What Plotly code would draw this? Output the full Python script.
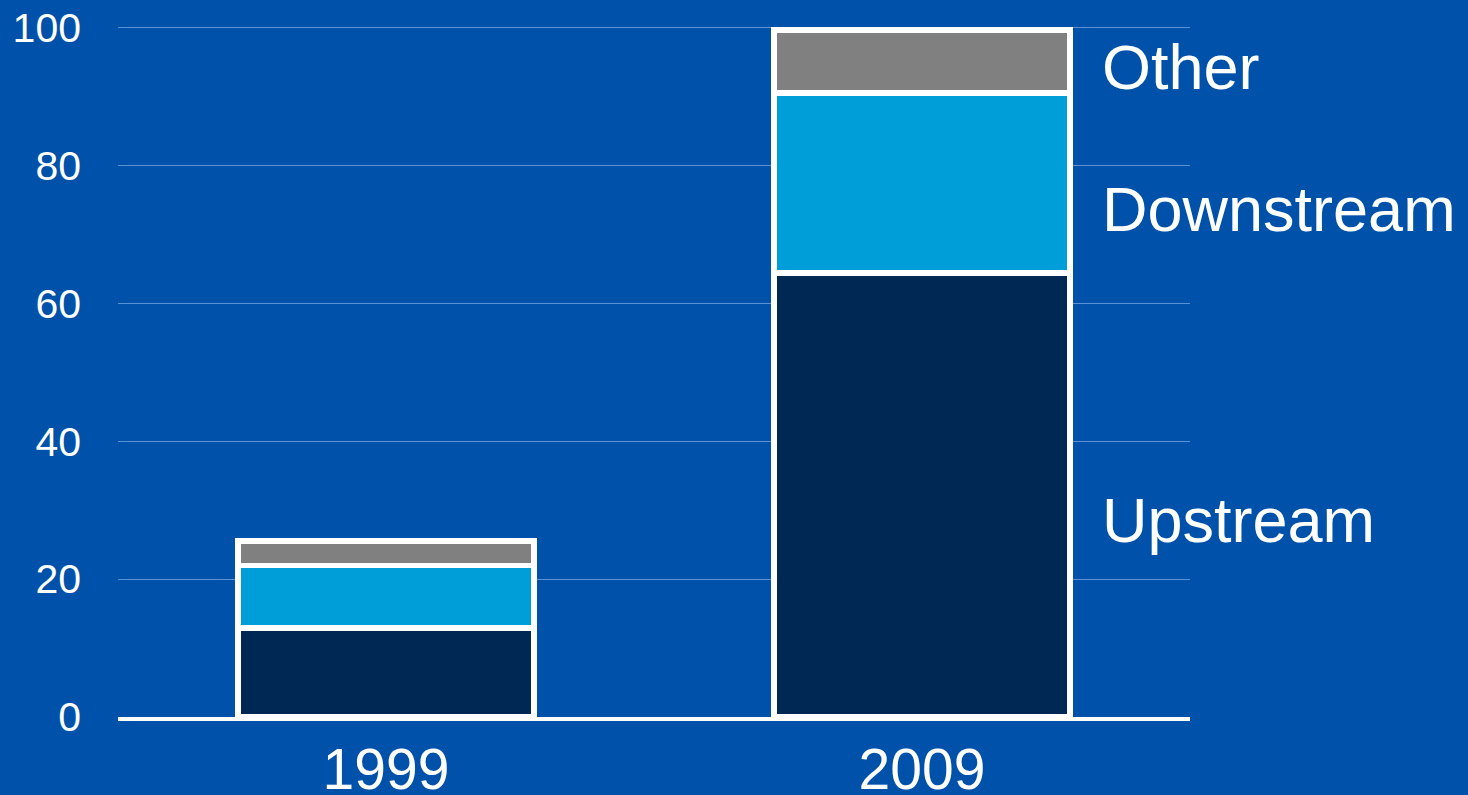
import plotly.graph_objects as go

years = ["1999", "2009"]
upstream = [12.9, 64.4]
downstream = [9.1, 26.1]
other = [3.5, 9.1]
series_names = ["Upstream", "Downstream", "Other"]
y_ticks = [0, 20, 40, 60, 80, 100]

colors = {"Upstream": "#002855", "Downstream": "#009ED8", "Other": "#808080"}
bg = "#0051A9"
FONT = "Liberation Sans, Arial, sans-serif"

fig = go.Figure()
for name, vals in zip(series_names, [upstream, downstream, other]):
    fig.add_trace(go.Bar(
        x=years, y=vals, name=name,
        marker=dict(color=colors[name], line=dict(color="white", width=5.5)),
        showlegend=False,
    ))

# right-side series labels, next to the 2009 bar
label_y = {"Other": 94.2, "Downstream": 73.6, "Upstream": 28.6}
for name in series_names:
    fig.add_annotation(
        x=1.333, y=label_y[name], xref="x", yref="y",
        text=name, showarrow=False, xanchor="left", yanchor="middle",
        font=dict(family=FONT, size=63, color="white"),
    )

fig.update_layout(
    barmode="stack",
    bargap=0.448,
    width=1468, height=795,
    margin=dict(l=118, r=278, t=24, b=78, autoexpand=False),
    paper_bgcolor=bg, plot_bgcolor=bg,
    font=dict(family=FONT, color="white"),
)
fig.update_xaxes(
    showline=True, linecolor="white", linewidth=4,
    showgrid=False, tickfont=dict(size=57, color="white"),
    ticks="", range=[-0.5, 1.5], automargin=False,
    ticklabelstandoff=0,
)
fig.update_yaxes(
    range=[0, 100.5], tickvals=y_ticks, automargin=False,
    showgrid=True, gridcolor="rgba(120,170,225,0.75)", gridwidth=1,
    zeroline=False, showline=False,
    tickfont=dict(size=41, color="white"),
    ticklabelstandoff=36,
)

fig.write_html(
    "out.html",
    config={"displayModeBar": False},
    post_script="document.body.style.margin='0';document.body.style.overflow='hidden';",
)
